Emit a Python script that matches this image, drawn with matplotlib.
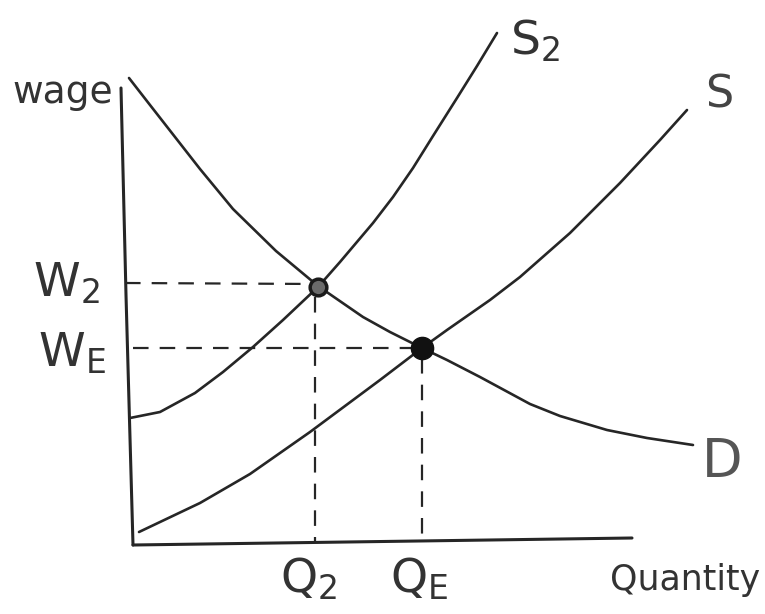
import matplotlib
matplotlib.use("Agg")
import matplotlib.pyplot as plt

# ---- data (quantity, wage) ----
demand_q = [-1, 20, 70, 103, 146, 188, 233, 260, 292, 317, 350, 400, 430, 477, 517, 563]
demand_w = [467, 440, 376, 336, 294, 259, 228, 213, 197, 185, 168, 141, 129, 115, 107, 100]

supply_q = [9, 70, 120, 180, 250, 292, 317, 360, 390, 440, 490, 530, 557]
supply_w = [13, 42, 71, 113, 165, 197, 215, 245, 268, 312, 362, 405, 435]

supply2_q = [0, 30, 65, 93, 123, 153, 188, 210, 243, 263, 283, 303, 327, 347, 367]
supply2_w = [127, 133, 152, 173, 198, 225, 258, 283, 322, 348, 377, 409, 447, 479, 512]

yaxis_q = [-9, -4, 3]
yaxis_w = [457, 250, 0]
xaxis_q = [3, 502]
xaxis_w = [0, 7]

Q2, W2 = 188, 258
QE, WE = 292, 197

ink = "#262626"
txt = "#333333"

fig = plt.figure(figsize=(7.65, 6.14), dpi=100)
ax = fig.add_axes([0, 0, 1, 1])
ax.set_xlim(-130, 635)
ax.set_ylim(-69, 545)
ax.axis("off")

# axes
ax.plot(yaxis_q, yaxis_w, color=ink, lw=2.2, solid_capstyle="round", solid_joinstyle="round")
ax.plot(xaxis_q, xaxis_w, color=ink, lw=2.2, solid_capstyle="round")

# curves
for q, w in [(demand_q, demand_w), (supply_q, supply_w), (supply2_q, supply2_w)]:
    ax.plot(q, w, color=ink, lw=1.9, solid_capstyle="round", solid_joinstyle="round")

# dashed guide lines
dash = dict(color=ink, lw=1.6, dashes=(7, 5))
ax.plot([-5, Q2], [W2 + 4, W2 + 3], **dash)
ax.plot([3, QE], [WE, WE], **dash)
ax.plot([Q2 - 3, Q2 - 3], [W2 - 10, 3], **dash)
ax.plot([QE, QE], [WE - 10, 3], **dash)

# equilibrium points
ax.plot([Q2], [W2], marker="o", ms=12, mfc="#6a6a6a", mec="#1a1a1a", mew=2.5)
ax.plot([QE], [WE], marker="o", ms=16, mfc="#111111", mec="#111111")

# labels
ax.text(-118, 442, "wage", fontsize=27, color=txt, ha="left", va="baseline")
ax.text(-97, 248, r"$\mathregular{W_2}$", fontsize=34, color=txt, ha="left", va="baseline")
ax.text(-92, 178, r"$\mathregular{W_E}$", fontsize=34, color=txt, ha="left", va="baseline")
ax.text(150, -48, r"$\mathregular{Q_2}$", fontsize=34, color=txt, ha="left", va="baseline")
ax.text(260, -47, r"$\mathregular{Q_E}$", fontsize=34, color=txt, ha="left", va="baseline")
ax.text(480, -45, "Quantity", fontsize=25, color=txt, ha="left", va="baseline")
ax.text(380, 490, r"$\mathregular{S_2}$", fontsize=34, color=txt, ha="left", va="baseline")
ax.text(575, 438, "S", fontsize=32, color="#444444", ha="left", va="baseline")
ax.text(572, 68, "D", fontsize=38, color="#555555", ha="left", va="baseline")

fig.savefig("out.png", dpi=100, facecolor="white")
